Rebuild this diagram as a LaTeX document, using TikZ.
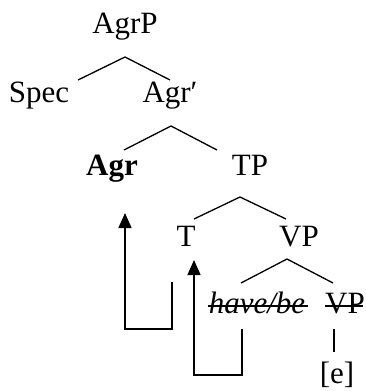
\documentclass[tikz,border=0pt]{standalone}
\usepackage{fontspec}
\setmainfont{Liberation Serif}
\usetikzlibrary{arrows.meta}
\begin{document}
\begin{tikzpicture}[x=1pt,y=-1pt,
  lbl/.style={inner sep=0pt, anchor=base, font=\fontsize{31}{37}\selectfont},
  branch/.style={line width=1.3pt},
  mv/.style={line width=1.6pt, -{Triangle[width=13pt,length=15pt]}},
  strike/.style={line width=1.3pt}]
\useasboundingbox (0,0) rectangle (366,391);
% labels
\node[lbl] (agrp) at (125,33) {AgrP};
\node[lbl] (spec) at (39,102) {Spec};
\node[lbl] (agrbar) at (170,102) {Agr′};
\node[lbl] (agr) at (112,175) {\textbf{Agr}};
\node[lbl] (tp) at (250,175) {TP};
\node[lbl] (t) at (186,246) {T};
\node[lbl] (vp) at (299,246) {VP};
\node[lbl] (hb) at (257,313) {\textit{have/be}};
\node[lbl] (vpb) at (345,313) {VP};
\node[lbl] (e) at (337,383) {[e]};
% branch points
\coordinate (b1a) at (125,57); \coordinate (b1l) at (78,80); \coordinate (b1r) at (170,80);
\coordinate (b2a) at (171,126); \coordinate (b2l) at (124,150); \coordinate (b2r) at (217,150);
\coordinate (b3a) at (240,197); \coordinate (b3l) at (194,219); \coordinate (b3r) at (286,219);
\coordinate (b4a) at (287,259); \coordinate (b4l) at (241,283); \coordinate (b4r) at (333,283);
\coordinate (v1) at (334,329); \coordinate (v2) at (334,352);
\draw[branch] (b1l) -- (b1a) -- (b1r);
\draw[branch] (b2l) -- (b2a) -- (b2r);
\draw[branch] (b3l) -- (b3a) -- (b3r);
\draw[branch] (b4l) -- (b4a) -- (b4r);
\draw[branch] (v1) -- (v2);
% strike-outs
\draw[strike] ([yshift=7pt,xshift=-1pt]hb.base west) -- ([yshift=7pt,xshift=3pt]hb.base east);
\draw[strike] ([yshift=7pt]vpb.base west) -- ([yshift=7pt,xshift=-2pt]vpb.base east);
% movement arrows
\coordinate (m1s) at (172,282); \coordinate (m1a) at (172,329); \coordinate (m1b) at (125,329); \coordinate (m1e) at (125,213);
\coordinate (m2s) at (242,329); \coordinate (m2a) at (242,375); \coordinate (m2b) at (194,375); \coordinate (m2e) at (194,260);
\draw[mv] (m1s) -- (m1a) -- (m1b) -- (m1e);
\draw[mv] (m2s) -- (m2a) -- (m2b) -- (m2e);
\end{tikzpicture}
\end{document}
